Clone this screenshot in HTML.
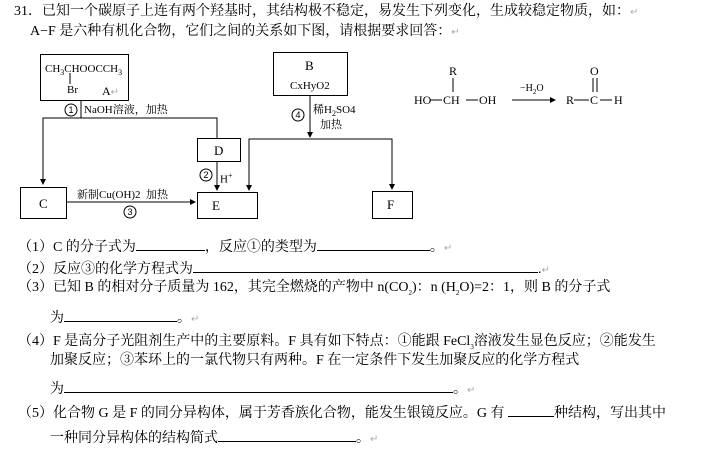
<!DOCTYPE html>
<html><head><meta charset="utf-8"><style>
body{margin:0;width:709px;height:453px;background:#fff;position:relative;overflow:hidden;font-family:"Liberation Serif","Noto Serif CJK SC",serif;color:#000;}
.t{position:absolute;font-size:13px;white-space:nowrap;line-height:15px;}
.q{font-size:14px;line-height:16px;}
.b{position:absolute;border:1px solid #000;box-sizing:border-box;}
.u{display:inline-block;border-bottom:1px solid #000;height:12px;vertical-align:baseline;}
.r{color:#aaa;font-size:10px;}
svg{position:absolute;left:0;top:0;}
</style></head><body>
<svg width="709" height="453">
<defs><marker id="a" markerWidth="6" markerHeight="6" refX="5" refY="3" orient="auto"><path d="M0,0L6,3L0,6z" fill="#000"/></marker></defs>
<g stroke="#000" stroke-width="1" fill="none">
<line x1="81" y1="101" x2="81" y2="118"/>
<polyline points="217,138 217,118 43,118 43,184" marker-end="url(#a)"/>
<line x1="217" y1="162" x2="217" y2="190" marker-end="url(#a)"/>
<line x1="67" y1="202" x2="195" y2="202" marker-end="url(#a)"/>
<line x1="310" y1="96" x2="310" y2="137" marker-end="url(#a)"/>
<polyline points="249,190 249,139 392,139 392,189"/>
<line x1="249" y1="180" x2="249" y2="190" marker-end="url(#a)"/>
<line x1="392" y1="180" x2="392" y2="189" marker-end="url(#a)"/>
<line x1="70" y1="73" x2="70" y2="84"/>
<circle cx="71" cy="110" r="6"/><circle cx="206" cy="175" r="6"/><circle cx="130" cy="212" r="6"/><circle cx="298" cy="115" r="6"/>
<line x1="453" y1="78" x2="453" y2="92"/>
<line x1="430" y1="100" x2="442" y2="100"/><line x1="466" y1="100" x2="478" y2="100"/>
<line x1="512" y1="100" x2="555" y2="100" marker-end="url(#a)"/>
<line x1="574" y1="100" x2="589" y2="100"/><line x1="600" y1="100" x2="612" y2="100"/>
<line x1="593" y1="78" x2="593" y2="92"/><line x1="597" y1="78" x2="597" y2="92"/>
</g>
<g font-size="9" font-family="Liberation Sans,sans-serif" text-anchor="middle"><text x="71" y="113">1</text><text x="206" y="178">2</text><text x="130" y="215">3</text><text x="298" y="118">4</text></g>
</svg>
<div class="b" style="left:40px;top:54px;width:89px;height:47px"></div>
<div class="t" style="left:45px;top:62px;font-size:11px">CH<sub style="font-size:8px">3</sub>CHOOCCH<sub style="font-size:8px">3</sub></div>
<div class="t" style="left:67px;top:83px;font-size:11px">Br</div>
<div class="t" style="left:102px;top:84px;font-size:12px">A<span class="r">↵</span></div>
<div class="t" style="left:84px;top:103px;font-size:11px">NaOH溶液，加热</div>
<div class="b" style="left:197px;top:138px;width:44px;height:24px"></div>
<div class="t" style="left:214px;top:143px">D</div>
<div class="t" style="left:220px;top:168px;font-size:11px">H<sup style="font-size:8px">+</sup></div>
<div class="b" style="left:197px;top:192px;width:61px;height:27px"></div>
<div class="t" style="left:212px;top:198px">E</div>
<div class="b" style="left:20px;top:187px;width:47px;height:32px"></div>
<div class="t" style="left:39px;top:196px">C</div>
<div class="t" style="left:77px;top:188px;font-size:11px">新制Cu(OH)2&nbsp; 加热</div>
<div class="b" style="left:273px;top:52px;width:75px;height:44px"></div>
<div class="t" style="left:305px;top:58px">B</div>
<div class="t" style="left:290px;top:79px;font-size:11px">CxHyO2</div>
<div class="t" style="left:313px;top:103px;font-size:11px">稀H<sub style="font-size:8px">2</sub>SO4</div>
<div class="t" style="left:320px;top:118px;font-size:11px">加热</div>
<div class="b" style="left:372px;top:191px;width:41px;height:28px"></div>
<div class="t" style="left:387px;top:197px">F</div>
<div class="t" style="left:449px;top:64px;font-size:12px">R</div>
<div class="t" style="left:414px;top:93px;font-size:12px">HO</div>
<div class="t" style="left:443px;top:93px;font-size:12px">CH</div>
<div class="t" style="left:479px;top:93px;font-size:12px">OH</div>
<div class="t" style="left:520px;top:81px;font-size:10px">−H<sub style="font-size:7px">2</sub>O</div>
<div class="t" style="left:566px;top:93px;font-size:12px">R</div>
<div class="t" style="left:590px;top:93px;font-size:12px">C</div>
<div class="t" style="left:614px;top:93px;font-size:12px">H</div>
<div class="t" style="left:590px;top:64px;font-size:12px">O</div>
<div class="t q" style="left:14px;top:4px">31．已知一个碳原子上连有两个羟基时，其结构极不稳定，易发生下列变化，生成较稳定物质，如：<span class="r">↵</span></div>
<div class="t q" style="left:30px;top:24px">A−F 是六种有机化合物，它们之间的关系如下图，请根据要求回答：<span class="r">↵</span></div>
<div class="t q" style="left:18px;top:238px">（1）C 的分子式为<span class="u" style="width:69px"></span>，反应①的类型为<span class="u" style="width:113px"></span>。<span class="r">↵</span></div>
<div class="t q" style="left:18px;top:260px">（2）反应③的化学方程式为<span class="u" style="width:345px"></span>.<span class="r">↵</span></div>
<div class="t q" style="left:18px;top:280px">（3）已知 B 的相对分子质量为 162，其完全燃烧的产物中 n(CO<sub style="font-size:7px">2</sub>)：n (H<sub style="font-size:7px">2</sub>O)=2：1，则 B 的分子式</div>
<div class="t q" style="left:50px;top:309px">为<span class="u" style="width:113px"></span>。<span class="r">↵</span></div>
<div class="t q" style="left:18px;top:334px">（4）F 是高分子光阻剂生产中的主要原料。F 具有如下特点：①能跟 FeCl<sub style="font-size:7px">3</sub>溶液发生显色反应；②能发生</div>
<div class="t q" style="left:50px;top:353px">加聚反应；③苯环上的一氯代物只有两种。F 在一定条件下发生加聚反应的化学方程式</div>
<div class="t q" style="left:50px;top:380px">为<span class="u" style="width:389px"></span>。<span class="r">↵</span></div>
<div class="t q" style="left:18px;top:404px">（5）化合物 G 是 F 的同分异构体，属于芳香族化合物，能发生银镜反应。G 有 <span class="u" style="width:46px"></span>种结构，写出其中</div>
<div class="t q" style="left:50px;top:429px">一种同分异构体的结构简式<span class="u" style="width:138px"></span>。<span class="r">↵</span></div>
</body></html>
